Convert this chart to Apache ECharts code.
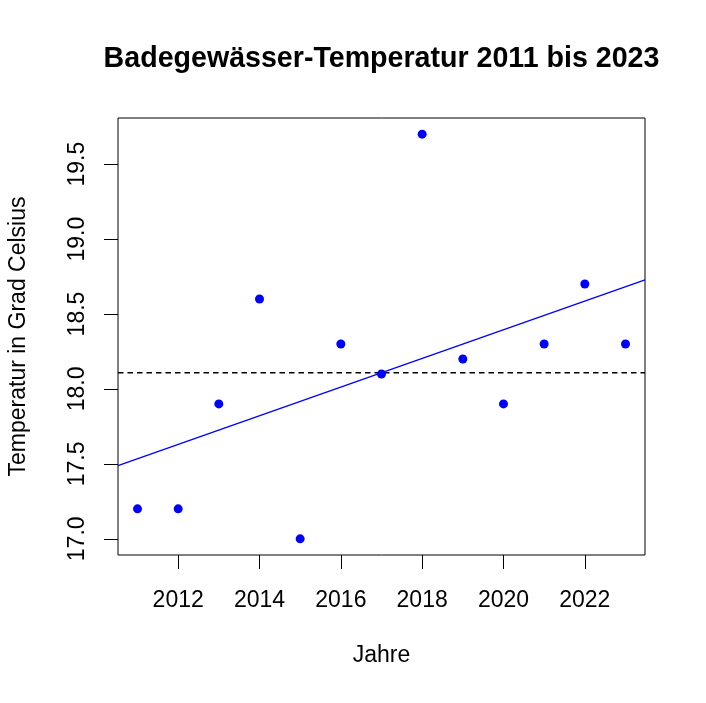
<!DOCTYPE html>
<html>
<head>
<meta charset="utf-8">
<script src="https://cdn.jsdelivr.net/npm/echarts@6/dist/echarts.min.js"></script>
<style>
html,body{margin:0;padding:0;background:#fff;}
#c{width:706px;height:703px;}
</style>
</head>
<body>
<div id="c"></div>
<script>
// Data
const years = [2011, 2012, 2013, 2014, 2015, 2016, 2017, 2018, 2019, 2020, 2021, 2022, 2023];
const temps = [17.2, 17.2, 17.9, 18.6, 17.0, 18.3, 18.1, 19.7, 18.2, 17.9, 18.3, 18.7, 18.3];
const xTicks = [2012, 2014, 2016, 2018, 2020, 2022];
const yTicks = [17.0, 17.5, 18.0, 18.5, 19.0, 19.5];
const titleText = 'Badegewässer-Temperatur 2011 bis 2023';
const xName = 'Jahre';
const yName = 'Temperatur in Grad Celsius';

// axis limits (R style 4% extension)
const xMin = 2010.52, xMax = 2023.48;
const yMin = 16.892, yMax = 19.808;

// mean and least-squares line from the data (abline(lm), abline(h=mean))
const n = years.length;
const mx = years.reduce((a, b) => a + b, 0) / n;
const my = temps.reduce((a, b) => a + b, 0) / n;
let sxy = 0, sxx = 0;
for (let i = 0; i < n; i++) { sxy += (years[i] - mx) * (temps[i] - my); sxx += (years[i] - mx) ** 2; }
const slope = sxy / sxx;
const icpt = my - slope * mx;

const FONT = "'Liberation Sans', Arial, Helvetica, sans-serif";
const chart = echarts.init(document.getElementById('c'), null, {renderer: 'canvas'});
chart.setOption({
  animation: false,
  backgroundColor: '#ffffff',
  title: {
    text: titleText,
    left: 381.5,
    top: 45,
    padding: 0,
    textAlign: 'center',
    textStyle: {fontFamily: FONT, fontSize: 28.6, fontWeight: 'bold', color: '#000'}
  },
  grid: {
    left: 118, right: 61, top: 118, bottom: 148,
    show: true, borderColor: '#000', borderWidth: 1, backgroundColor: 'transparent',
    outerBoundsMode: 'none', containLabel: false
  },
  xAxis: {
    type: 'value', min: xMin, max: xMax,
    name: xName, nameLocation: 'middle', nameGap: 101,
    nameTextStyle: {fontFamily: FONT, fontSize: 23, color: '#000', verticalAlign: 'middle'},
    axisLine: {show: false},
    splitLine: {show: false},
    axisTick: {show: true, inside: false, length: 14, customValues: xTicks, lineStyle: {color: '#000', width: 1}},
    axisLabel: {show: true, margin: 34, customValues: xTicks, fontFamily: FONT, fontSize: 23, color: '#000',
      verticalAlign: 'top', formatter: v => String(v)}
  },
  yAxis: {
    type: 'value', min: yMin, max: yMax,
    name: yName, nameLocation: 'middle', nameGap: 99,
    nameTextStyle: {fontFamily: FONT, fontSize: 23, color: '#000', verticalAlign: 'middle', align: 'center'},
    axisLine: {show: false},
    splitLine: {show: false},
    axisTick: {show: true, inside: false, length: 14, customValues: yTicks, lineStyle: {color: '#000', width: 1}},
    axisLabel: {show: true, margin: 40, rotate: 90, align: 'center', verticalAlign: 'middle',
      customValues: yTicks, fontFamily: FONT, fontSize: 23, color: '#000', formatter: v => v.toFixed(1)}
  },
  series: [
    {
      type: 'line',
      data: [[xMin, my], [xMax, my]],
      symbol: 'none',
      lineStyle: {color: '#000', width: 1.4, type: [5.5, 4]},
      silent: true, z: 2
    },
    {
      type: 'line',
      data: [[xMin, icpt + slope * xMin], [xMax, icpt + slope * xMax]],
      symbol: 'none',
      lineStyle: {color: '#0000ff', width: 1.3},
      silent: true, z: 3
    },
    {
      type: 'scatter',
      data: years.map((y, i) => [y, temps[i]]),
      symbol: 'circle',
      symbolSize: 9,
      itemStyle: {color: '#0000ff', opacity: 1},
      z: 4
    }
  ]
});
</script>
</body>
</html>
